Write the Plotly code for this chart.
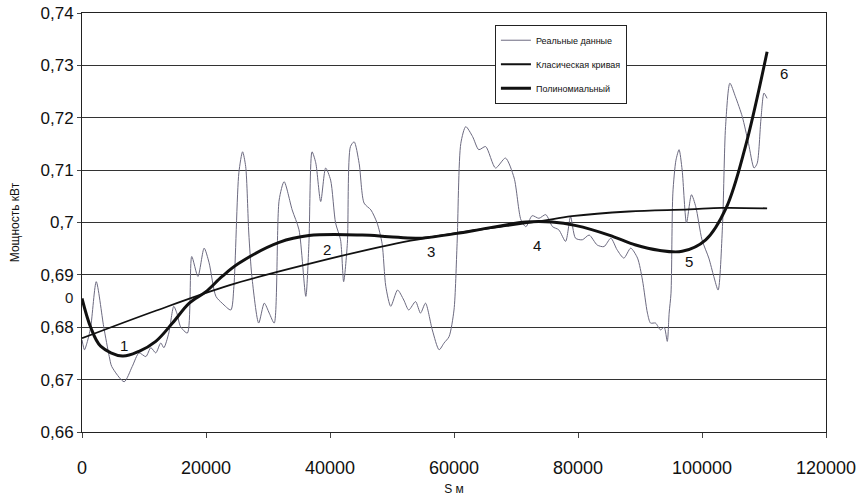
import plotly.graph_objects as go

# Real data (thin wavy line)
real_s = [0, 400, 800, 1400, 2300, 3500, 4400, 4800, 6800, 8100, 9200, 10300, 11100, 11900,
          12700, 13200, 14000, 14800, 15300, 15900, 17000, 17700, 18700, 19700, 20500, 21600,
          22600, 24000, 24500, 25300, 25900, 26400, 26900, 27400, 28500, 29400, 30200, 31000,
          31800, 32600, 33900, 35000, 36100, 36600, 37100, 37700, 38500, 39300, 40100, 40900,
          41700, 42200, 42800, 43300, 43900, 44700, 45500, 46600, 47600, 48400, 49000, 49800,
          50900, 51900, 52700, 53800, 54600, 55400, 56500, 57600, 58400, 59200, 60000, 60500,
          61100, 61900, 63000, 64000, 65100, 66700, 68300, 69700, 70800, 71600, 72600, 73700,
          74800, 75900, 76900, 78000, 78800, 79600, 80700, 81800, 83100, 84200, 85300, 86300,
          87400, 88500, 89600, 90400, 91200, 91700, 92500, 93300, 93900, 94400, 94700, 95000,
          95300, 95800, 96300, 96800, 97500, 98300, 99000, 100000, 101100, 101900, 102600,
          103300, 103800, 104500, 105400, 106500, 107500, 108400, 108900, 109500, 110000, 110500]
real_p = [0.6776, 0.6757, 0.6770, 0.6800, 0.6887, 0.6801, 0.6744, 0.6725, 0.6696, 0.6725,
          0.6751, 0.6744, 0.6761, 0.6751, 0.6770, 0.6761, 0.6789, 0.6840, 0.6827, 0.6801,
          0.6789, 0.6935, 0.6897, 0.6951, 0.6923, 0.6859, 0.6846, 0.6833, 0.6878, 0.7095,
          0.7135, 0.7107, 0.6980, 0.6897, 0.6808, 0.6846, 0.6827, 0.6808, 0.7043, 0.7078,
          0.7024, 0.6986, 0.6859, 0.6960, 0.7135, 0.7114, 0.7040, 0.7104, 0.7081, 0.6999,
          0.6967, 0.6887, 0.6960, 0.7145, 0.7154, 0.7113, 0.7037, 0.7024, 0.6999, 0.6960,
          0.6878, 0.6840, 0.6871, 0.6852, 0.6833, 0.6849, 0.6827, 0.6846, 0.6795, 0.6757,
          0.6770, 0.6782, 0.6833, 0.6960, 0.7151, 0.7183, 0.7164, 0.7139, 0.7145, 0.7104,
          0.7123, 0.7085, 0.7005, 0.6992, 0.7013, 0.7008, 0.7015, 0.6992, 0.6986, 0.6964,
          0.7011, 0.6970, 0.6967, 0.6976, 0.6957, 0.6954, 0.6970, 0.6948, 0.6932, 0.6951,
          0.6932, 0.6890, 0.6827, 0.6808, 0.6808, 0.6795, 0.6800, 0.6773, 0.6827, 0.6865,
          0.7056, 0.7119, 0.7139, 0.7100, 0.6999, 0.7053, 0.7030, 0.6967, 0.6932, 0.6897,
          0.6871, 0.6992, 0.7183, 0.7266, 0.7240, 0.7202, 0.7151, 0.7104, 0.7113, 0.7196,
          0.7247, 0.7237]

# Classical curve
class_s = [0, 12000, 23700, 36600, 49500, 60500, 73700, 79000, 88200, 97900, 103200, 110500]
class_p = [0.6779, 0.6832, 0.6880, 0.6921, 0.6957, 0.6980, 0.7002, 0.7012, 0.7021, 0.7025,
           0.7028, 0.7027]

# Polynomial curve
poly_s = [0, 1400, 3000, 6500, 9200, 11900, 14600, 17300, 20000, 22600, 25300, 31800, 36600,
          45200, 49500, 54400, 62400, 71600, 75800, 79700, 85000, 89300, 93000, 96800, 100600,
          103900, 107000, 110500]
poly_p = [0.6855, 0.6800, 0.6764, 0.6745, 0.6754, 0.6773, 0.6808, 0.6846, 0.6868, 0.6897,
          0.6922, 0.6962, 0.6975, 0.6976, 0.6973, 0.6970, 0.6983, 0.7001, 0.7001, 0.6994,
          0.6976, 0.6957, 0.6947, 0.6945, 0.6967, 0.7028, 0.7145, 0.7326]

point_labels = ["1", "2", "3", "4", "5", "6"]
point_s = [6800, 39500, 56300, 73400, 97900, 113200]
point_p = [0.6766, 0.6948, 0.6944, 0.6957, 0.6925, 0.7285]

FONT = "Liberation Sans, Arial"

fig = go.Figure()
fig.add_trace(go.Scatter(x=real_s, y=real_p, mode="lines", name="Реальные данные",
                         line=dict(color="#6c6a80", width=1, shape="spline", smoothing=0.7),
                         legendgroup="a"))
fig.add_trace(go.Scatter(x=class_s, y=class_p, mode="lines", name="Класическая кривая",
                         line=dict(color="#111111", width=1.8, shape="spline", smoothing=1),
                         legendgroup="b"))
fig.add_trace(go.Scatter(x=poly_s, y=poly_p, mode="lines", name="Полиномиальный",
                         line=dict(color="#111111", width=3, shape="spline", smoothing=1),
                         legendgroup="c"))

for t, sx, py in zip(point_labels, point_s, point_p):
    fig.add_annotation(x=sx, y=py, text=t, showarrow=False,
                       font=dict(family=FONT, size=15, color="#111111"))

fig.add_annotation(x=-0.009, y=0.6856, xref="paper", yref="y", text="0", showarrow=False,
                   xanchor="right", yanchor="middle",
                   font=dict(family=FONT, size=15, color="#222"))

fig.update_layout(
    width=858, height=503,
    margin=dict(l=82, r=32, t=13, b=71),
    paper_bgcolor="white", plot_bgcolor="white",
    separators=", ",
    font=dict(family=FONT, color="#111111"),
    legend=dict(x=0.555, y=0.972, xanchor="left", yanchor="top",
                bordercolor="#222", borderwidth=1, bgcolor="white",
                font=dict(size=9, color="#111"), itemwidth=30,
                traceorder="grouped", tracegroupgap=5),
    xaxis=dict(range=[0, 120000], tickvals=[0, 20000, 40000, 60000, 80000, 100000, 120000],
               tickformat="d", showgrid=False, zeroline=False, automargin=False,
               showline=True, linecolor="#222", linewidth=1, mirror=True,
               ticks="outside", ticklen=5, tickcolor="#444",
               ticklabelstandoff=14, ticklabeloverflow="allow",
               tickfont=dict(size=18), title=dict(text="S м", font=dict(size=12), standoff=8)),
    yaxis=dict(range=[0.66, 0.74], dtick=0.01, tickformat=".2~f", automargin=False,
               showgrid=True, gridcolor="#333333", gridwidth=1.3, zeroline=False,
               showline=True, linecolor="#222", linewidth=1, mirror=True,
               ticks="outside", ticklen=4, tickcolor="#444", ticklabeloverflow="allow",
               tickfont=dict(size=17), title=dict(text="Мощность кВт", font=dict(size=12), standoff=18)),
)

fig.write_html("out.html", config={"displayModeBar": False},
               post_script="document.body.style.margin='0';")
